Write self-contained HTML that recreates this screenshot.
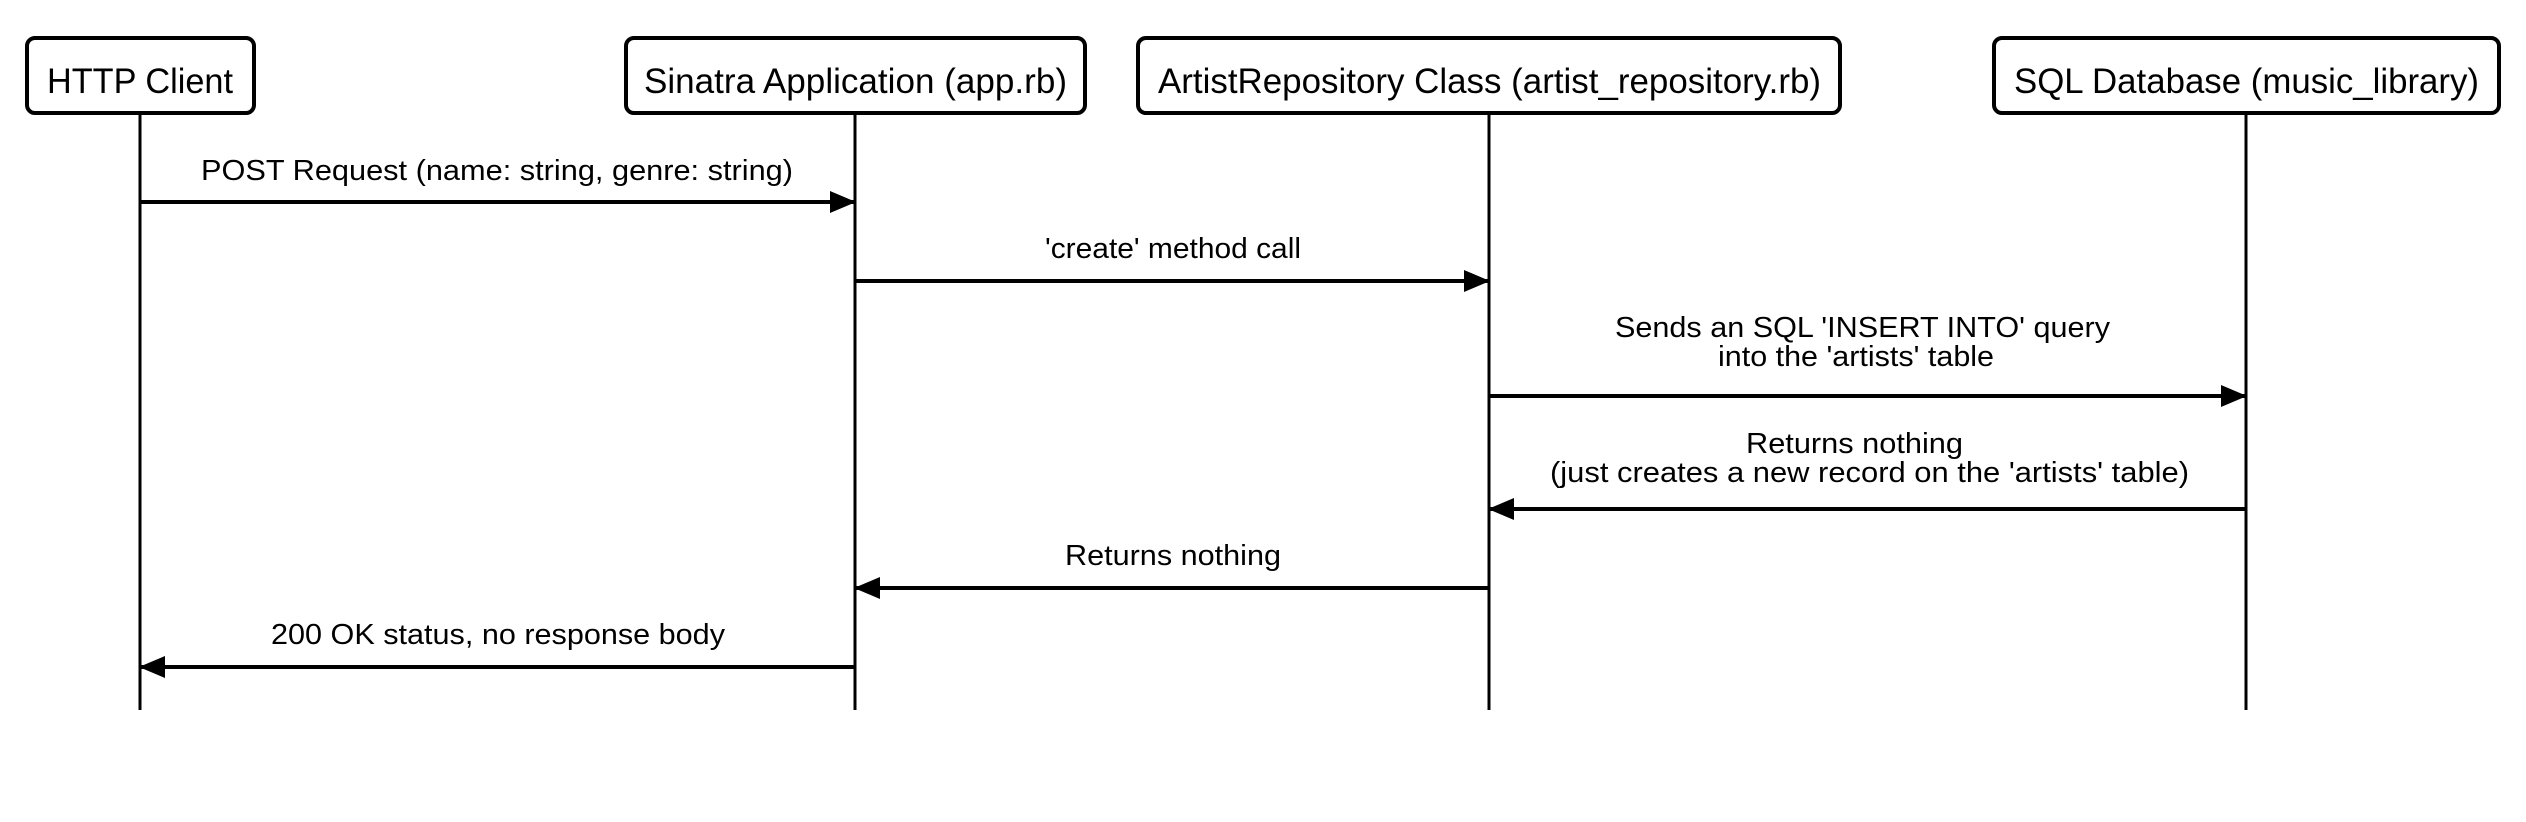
<!DOCTYPE html>
<html><head><meta charset="utf-8"><style>html,body{margin:0;padding:0;background:#fff;}svg{display:block}</style></head>
<body>
<svg width="2526" height="822" viewBox="0 0 2526 822" xmlns="http://www.w3.org/2000/svg" font-family="Liberation Sans, Arial, sans-serif" fill="#000">
<defs>
<marker id="ah" markerWidth="26" markerHeight="22" refX="25" refY="11" orient="auto" markerUnits="userSpaceOnUse">
<path d="M0,0 L26,11 L0,22 Z" fill="#000"/>
</marker>
</defs>
<g stroke="#000" stroke-width="3">
<line x1="140" y1="113" x2="140" y2="710"/>
<line x1="855" y1="113" x2="855" y2="710"/>
<line x1="1489" y1="113" x2="1489" y2="710"/>
<line x1="2246" y1="113" x2="2246" y2="710"/>
</g>
<g fill="#fff" stroke="#000" stroke-width="4">
<rect x="27" y="38" width="227" height="75" rx="8"/>
<rect x="626" y="38" width="459" height="75" rx="8"/>
<rect x="1138" y="38" width="702" height="75" rx="8"/>
<rect x="1994" y="38" width="505" height="75" rx="8"/>
</g>
<g font-size="35" lengthAdjust="spacingAndGlyphs">
<text x="47" y="93" textLength="186" lengthAdjust="spacingAndGlyphs">HTTP Client</text>
<text x="644" y="93" textLength="423" lengthAdjust="spacingAndGlyphs">Sinatra Application (app.rb)</text>
<text x="1158" y="93" textLength="663" lengthAdjust="spacingAndGlyphs">ArtistRepository Class (artist_repository.rb)</text>
<text x="2014" y="93" textLength="465" lengthAdjust="spacingAndGlyphs">SQL Database (music_library)</text>
</g>
<g stroke="#000" stroke-width="4">
<line x1="140" y1="202" x2="855" y2="202" marker-end="url(#ah)"/>
<line x1="855" y1="281" x2="1489" y2="281" marker-end="url(#ah)"/>
<line x1="1489" y1="396" x2="2246" y2="396" marker-end="url(#ah)"/>
<line x1="2246" y1="509" x2="1489" y2="509" marker-end="url(#ah)"/>
<line x1="1489" y1="588" x2="855" y2="588" marker-end="url(#ah)"/>
<line x1="855" y1="667" x2="140" y2="667" marker-end="url(#ah)"/>
</g>
<g font-size="29">
<text x="201" y="180" textLength="592" lengthAdjust="spacingAndGlyphs">POST Request (name: string, genre: string)</text>
<text x="1045" y="258" textLength="256" lengthAdjust="spacingAndGlyphs">'create' method call</text>
<text x="1615" y="337" textLength="495" lengthAdjust="spacingAndGlyphs">Sends an SQL 'INSERT INTO' query</text>
<text x="1718" y="366" textLength="276" lengthAdjust="spacingAndGlyphs">into the 'artists' table</text>
<text x="1746" y="453" textLength="217" lengthAdjust="spacingAndGlyphs">Returns nothing</text>
<text x="1550" y="482" textLength="639" lengthAdjust="spacingAndGlyphs">(just creates a new record on the 'artists' table)</text>
<text x="1065" y="565" textLength="216" lengthAdjust="spacingAndGlyphs">Returns nothing</text>
<text x="271" y="644" textLength="454" lengthAdjust="spacingAndGlyphs">200 OK status, no response body</text>
</g>
</svg>
</body></html>
